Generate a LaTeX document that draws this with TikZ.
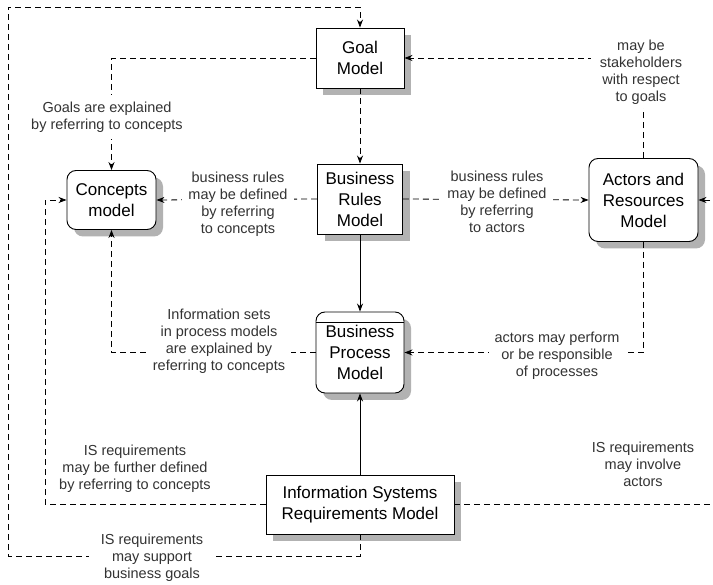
\documentclass[tikz,border=0pt]{standalone}
\usepackage{fontspec}
\setmainfont{Liberation Sans}
\usetikzlibrary{arrows.meta,shadows}
\begin{document}
\begin{tikzpicture}[x=1pt,y=-1pt,
  model/.style={draw, line width=0.9pt, fill=white, align=center, inner sep=0pt,
    font=\fontsize{17}{21}\selectfont,
    drop shadow={shadow xshift=7pt, shadow yshift=-7pt, fill=black!30, opacity=1}},
  roundmodel/.style={model, rounded corners=9pt},
  conn/.style={line width=0.8pt, dash pattern=on 6pt off 4pt, -{Stealth[length=8pt,width=6pt]}},
  plainconn/.style={line width=0.8pt, -{Stealth[length=8pt,width=6pt]}},
  note/.style={fill=white, align=center, inner xsep=6pt, inner ysep=4pt, text=black!80,
    font=\fontsize{14.5}{17}\selectfont}]
\fill[white] (0,0) rectangle (713,585);
\useasboundingbox (0,0) rectangle (713,585);

% models
\node[model, minimum width=88pt, minimum height=60pt] (goal) at (360,58) {Goal\\Model};
\node[roundmodel, minimum width=89pt, minimum height=59pt] (concepts) at (111.5,200) {Concepts\\model};
\node[model, minimum width=85pt, minimum height=70pt] (br) at (360,199) {Business\\Rules\\Model};
\node[roundmodel, minimum width=109pt, minimum height=83pt] (actors) at (643.5,200) {Actors and\\Resources\\Model};
\node[roundmodel, minimum width=88pt, minimum height=81pt] (bp) at (360,352.5) {\raisebox{6pt}{\parbox{80pt}{\centering Business\\Process\\Model}}};
\draw[line width=0.9pt] ([yshift=-11pt]bp.north west) -- ([yshift=-11pt]bp.north east);
\node[model, minimum width=188pt, minimum height=59pt] (is) at (360,504.5) {Information Systems\\Requirements Model};

% relations
\draw[conn] (is.south) -- (360,556) -- (8,556) -- (8,7) -- (360,7) -- (goal.north);
\draw[conn] (goal.west) -| (concepts.north);
\draw[conn] (goal.south) -- (br.north);
\draw[conn] (actors.north) |- (goal.east);
\draw[conn] (br.west) -- (concepts.west -| concepts.east);
\draw[conn] (br.east) -- (actors.west);
\draw[plainconn] (br.south) -- (bp.north);
\draw[conn] (bp.west) -| (concepts.south);
\draw[conn] (actors.south) |- (bp.east);
\draw[plainconn] (is.north) -- (bp.south);
\draw[conn] (is.west) -- (45,504.5) |- (concepts.west);
\draw[conn] (is.east) -- (720,504.5) |- (actors.east);

% relation labels
\node[note, inner ysep=7pt] (lgoalc) at (107,117) {Goals are explained\\by referring to concepts};
\node[note, inner xsep=9pt] (lstake) at (641,72) {may be\\stakeholders\\with respect\\to goals};
\node[note] (lbrc) at (238,204) {business rules\\may be defined\\by referring\\to concepts};
\node[note] (lbra) at (497,202) {business rules\\may be defined\\by referring\\to actors};
\node[note] (lbpc) at (219,341) {Information sets\\in process models\\are explained by\\referring to concepts};
\node[note] (lbpa) at (557,356) {actors may perform\\or be responsible\\of processes};
\node[note] (lisc) at (135,469) {IS requirements\\may be further defined\\by referring to concepts};
\node[note] (lisa) at (643,464) {IS requirements\\may involve\\actors};
\node[note, inner xsep=12pt] (lisg) at (152,558) {IS requirements\\may support\\business goals};
\end{tikzpicture}
\end{document}
